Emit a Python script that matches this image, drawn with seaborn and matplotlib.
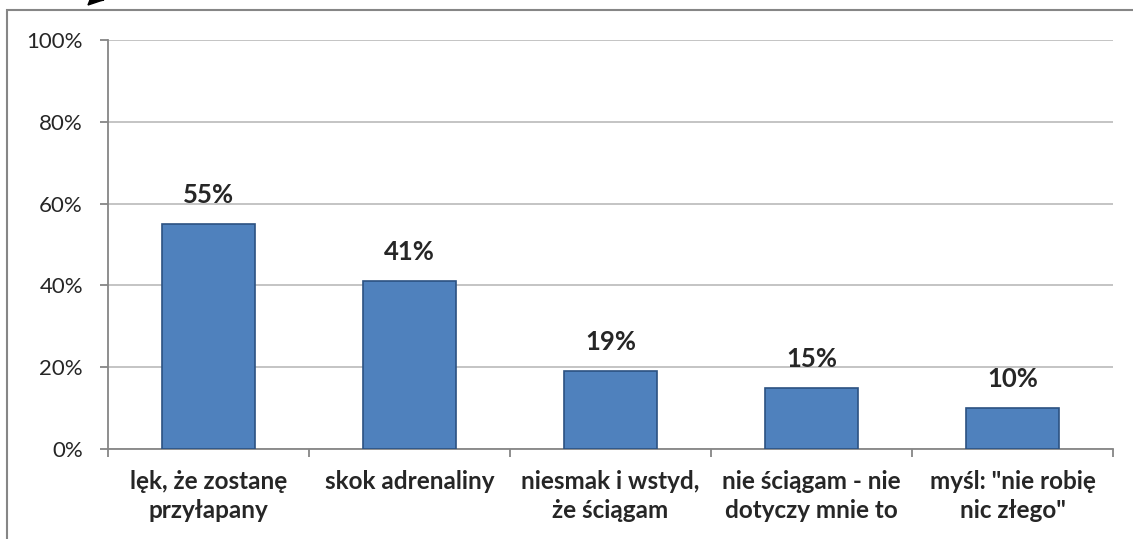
import numpy as np
import pandas as pd
import matplotlib
matplotlib.use("Agg")
import matplotlib.pyplot as plt
import seaborn as sns
from matplotlib.patches import Rectangle, Polygon

categories = ["lęk, że zostanę\nprzyłapany", "skok adrenaliny", "niesmak i wstyd,\nże ściągam",
              "nie ściągam - nie\ndotyczy mnie to", "myśl: \"nie robię\nnic złego\""]
values = [55, 41, 19, 15, 10]
yticks = [0, 20, 40, 60, 80, 100]

sns.set_style("white")
plt.rcParams['font.family'] = ['Lato', 'DejaVu Sans']

df = pd.DataFrame({"cat": categories, "val": values})

fig = plt.figure(figsize=(11.33, 5.39), dpi=100)
ax = fig.add_axes([108/1133, 1 - 449/539, 1005/1133, 409/539])

sns.barplot(data=df, x="cat", y="val", color="#4F81BD", saturation=1,
            width=0.46, edgecolor="#2C5282", linewidth=1.2, ax=ax, zorder=3)

ax.set_ylim(0, 100)
ax.set_xlim(-0.5, len(categories) - 0.5)
ax.set_yticks(yticks)
ax.set_yticklabels([f"{t}%" for t in yticks], fontsize=16)
ax.yaxis.grid(True, color="#BFBFBF", linewidth=1.3, zorder=0)
ax.set_xlabel("")
ax.set_ylabel("")

# category labels, ticks at the category boundaries
ax.set_xticks(range(len(categories)))
ax.set_xticklabels(categories, fontsize=17.5, fontweight="bold", linespacing=1.3)
ax.set_xticks(np.arange(-0.5, len(categories)), minor=True)
ax.tick_params(axis="x", which="major", length=0, pad=15)
ax.tick_params(axis="x", which="minor", length=6, color="#868686", width=1.3, direction="out")
ax.tick_params(axis="y", length=6, color="#868686", width=1.3, direction="out", pad=12)
ax.yaxis.set_ticks_position("left")
ax.xaxis.set_ticks_position("bottom")

for side in ["top", "right"]:
    ax.spines[side].set_visible(False)
for side in ["left", "bottom"]:
    ax.spines[side].set_color("#868686")
    ax.spines[side].set_linewidth(1.3)

for i, v in enumerate(values):
    ax.annotate(f"{v}%", (i, v), xytext=(0, 15), textcoords="offset points",
                ha="center", va="baseline", fontsize=18.5, fontweight="bold")

# outer chart frame (runs off the right and bottom of the picture)
fig.patches.append(Rectangle((7/1133, -0.1), 1.2, 1 - 10.5/539 + 0.1, transform=fig.transFigure,
                             fill=False, edgecolor="#868686", linewidth=1.5))
# small black fragment at the top edge
fig.patches.append(Polygon([(88/1133, 1 - 5/539), (100/1133, 1 - 1/539), (104/1133, 1.0), (90/1133, 1.0)],
                           closed=True, transform=fig.transFigure, color="black"))

fig.savefig("out.png", dpi=100)
